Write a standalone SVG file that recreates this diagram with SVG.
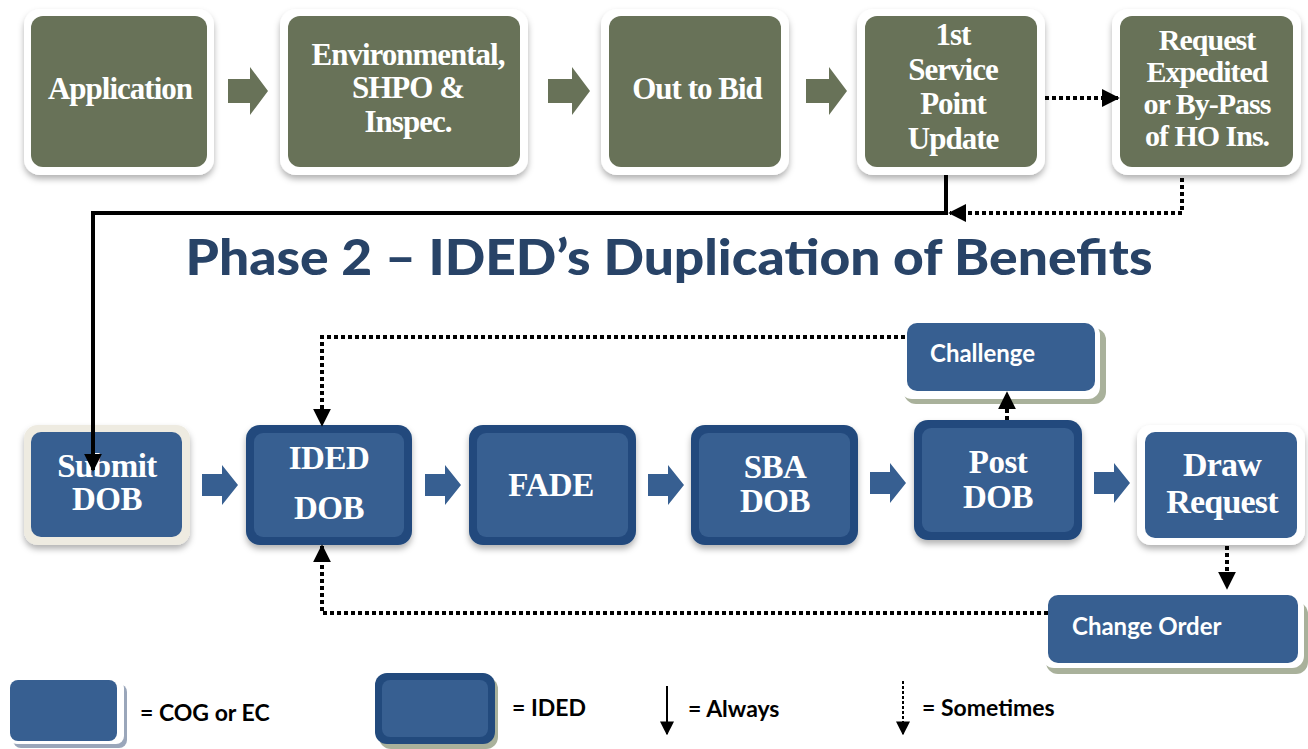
<svg xmlns="http://www.w3.org/2000/svg" width="1308" height="749" viewBox="0 0 1308 749">
<defs>
<filter id="sh" x="-10%" y="-10%" width="125%" height="135%">
<feDropShadow dx="0" dy="4" stdDeviation="3" flood-color="#000" flood-opacity="0.3"/>
</filter>
<marker id="ah" viewBox="0 0 10 10" refX="9" refY="5" markerWidth="4.5" markerHeight="4.5" orient="auto" markerUnits="strokeWidth">
<path d="M0,0 L10,5 L0,10 z" fill="#000"/>
</marker>
<marker id="ahL" viewBox="0 0 10 10" refX="9" refY="5" markerWidth="7" markerHeight="7" orient="auto" markerUnits="strokeWidth">
<path d="M0,0 L10,5 L0,10 z" fill="#000"/>
</marker>
<style>
.wht{fill:#ffffff;filter:url(#sh);}
.olv{fill:#687258;}
.blu{fill:#375f91;}
.ided{fill:#224a7d;filter:url(#sh);}
.cream{fill:#eeebe1;filter:url(#sh);}
.sgr{fill:#a9b19b;}
.t1{font-family:"Liberation Serif",serif;font-weight:bold;font-size:31px;fill:#fff;text-anchor:middle;letter-spacing:-1px;}
.t2{font-family:"Liberation Serif",serif;font-weight:bold;font-size:33px;fill:#fff;text-anchor:middle;letter-spacing:-0.5px;}
.t3{font-family:"Lato","Open Sans",sans-serif;font-weight:bold;font-size:24px;fill:#fff;}
.lg{font-family:"Lato","Open Sans",sans-serif;font-weight:bold;font-size:23px;fill:#000;}
.solid{fill:none;stroke:#000;stroke-width:4;}
.dot{fill:none;stroke:#000;stroke-width:4;stroke-dasharray:4 3;}
.barO{fill:#687258;}
.barB{fill:#375f91;}
</style>
</defs>
<rect width="1308" height="749" fill="#fff"/>

<g id="n-application">
<rect class="wht" x="24" y="9" width="190" height="166" rx="16"/>
<rect class="olv" x="31" y="16" width="176" height="151" rx="12"/>
<text class="t1" x="120" y="99">Application</text>
</g>
<g id="n-environmental">
<rect class="wht" x="280" y="9" width="248" height="166" rx="16"/>
<rect class="olv" x="288" y="16" width="232" height="151" rx="12"/>
<text class="t1" x="408" y="65">Environmental,</text>
<text class="t1" x="408" y="98">SHPO &amp;</text>
<text class="t1" x="408" y="132">Inspec.</text>
</g>
<g id="n-outtobid">
<rect class="wht" x="601" y="9" width="188" height="166" rx="16"/>
<rect class="olv" x="609" y="16" width="172" height="151" rx="12"/>
<text class="t1" x="697" y="99">Out to Bid</text>
</g>
<g id="n-service">
<rect class="wht" x="857" y="9" width="188" height="166" rx="16"/>
<rect class="olv" x="865" y="16" width="172" height="151" rx="12"/>
<text class="t1" x="953" y="45">1st</text>
<text class="t1" x="953" y="80">Service</text>
<text class="t1" x="953" y="114">Point</text>
<text class="t1" x="953" y="149">Update</text>
</g>
<g id="n-request">
<rect class="wht" x="1112" y="9" width="189" height="166" rx="16"/>
<rect class="olv" x="1120" y="16" width="173" height="151" rx="12"/>
<text class="t1" x="1207" y="50" style="font-size:30px">Request</text>
<text class="t1" x="1207" y="82" style="font-size:30px">Expedited</text>
<text class="t1" x="1207" y="114" style="font-size:30px">or By-Pass</text>
<text class="t1" x="1207" y="146" style="font-size:30px">of HO Ins.</text>
</g>

<text id="title" x="669" y="275" text-anchor="middle" textLength="967" lengthAdjust="spacingAndGlyphs" style="font-family:'Lato','Open Sans',sans-serif;font-weight:900;font-size:49px;fill:#284367">Phase 2 – IDED’s Duplication of Benefits</text>

<g id="n-submit">
<rect class="cream" x="24" y="425" width="166" height="120" rx="14"/>
<rect class="blu" x="31" y="432" width="151" height="105" rx="10"/>
<text class="t2" x="107" y="477">Submit</text>
<text class="t2" x="107" y="510">DOB</text>
</g>
<g id="n-ideddob">
<rect class="ided" x="246" y="425" width="166" height="120" rx="14"/>
<rect class="blu" x="254" y="433" width="150" height="104" rx="9"/>
<text class="t2" x="329" y="469">IDED</text>
<text class="t2" x="329" y="519">DOB</text>
</g>
<g id="n-fade">
<rect class="ided" x="469" y="425" width="167" height="120" rx="14"/>
<rect class="blu" x="477" y="433" width="151" height="104" rx="9"/>
<text class="t2" x="551" y="496">FADE</text>
</g>
<g id="n-sba">
<rect class="ided" x="691" y="425" width="167" height="120" rx="14"/>
<rect class="blu" x="699" y="433" width="151" height="104" rx="9"/>
<text class="t2" x="775" y="478">SBA</text>
<text class="t2" x="775" y="512">DOB</text>
</g>
<g id="n-post">
<rect class="ided" x="914" y="420" width="168" height="120" rx="14"/>
<rect class="blu" x="922" y="428" width="152" height="104" rx="9"/>
<text class="t2" x="998" y="473">Post</text>
<text class="t2" x="998" y="508">DOB</text>
</g>
<g id="n-draw">
<rect class="wht" x="1137" y="425" width="168" height="120" rx="14"/>
<rect class="blu" x="1145" y="432" width="152" height="106" rx="10"/>
<text class="t2" x="1222" y="476" style="font-size:34px;letter-spacing:-0.8px">Draw</text>
<text class="t2" x="1222" y="513" style="font-size:34px;letter-spacing:-0.8px">Request</text>
</g>
<g id="n-challenge">
<rect class="sgr" x="904" y="328" width="202" height="76" rx="12"/>
<rect fill="#fff" x="900" y="323" width="200" height="76" rx="12"/>
<rect class="blu" x="907" y="323" width="188" height="68" rx="10"/>
<text class="t3" x="930" y="362">Challenge</text>
</g>
<g id="n-change">
<rect class="sgr" x="1046" y="602" width="262" height="72" rx="12"/>
<rect fill="#fff" x="1042" y="596" width="262" height="72" rx="12"/>
<rect class="blu" x="1048" y="595" width="250" height="68" rx="10"/>
<text class="t3" x="1072" y="635">Change Order</text>
</g>

<g id="connectors">
<path class="barO" d="M228,79 h22 v-12 l18,24 l-18,24 v-12 h-22 z"/>
<path class="barO" d="M548,79 h24 v-12 l18,24 l-18,24 v-12 h-24 z"/>
<path class="barO" d="M806,79 h23 v-12 l18,24 l-18,24 v-12 h-23 z"/>
<path class="barB" d="M202,474 h20 v-9 l16,20 l-16,20 v-9 h-20 z"/>
<path class="barB" d="M425,474 h20 v-9 l16,20 l-16,20 v-9 h-20 z"/>
<path class="barB" d="M648,474 h20 v-9 l16,20 l-16,20 v-9 h-20 z"/>
<path class="barB" d="M870,472 h20 v-9 l16,20 l-16,20 v-9 h-20 z"/>
<path class="barB" d="M1094,472 h20 v-9 l16,20 l-16,20 v-9 h-20 z"/>

<path class="dot" d="M1045,98 H1118" marker-end="url(#ah)"/>
<path class="solid" d="M946,175 V213 H93 V470" marker-end="url(#ah)"/>
<path class="dot" d="M1182,178 V213 H950" marker-end="url(#ah)"/>
<path class="dot" d="M905,337 H322 V425" marker-end="url(#ah)"/>
<path class="dot" d="M1007,420 V393" marker-end="url(#ah)"/>
<path class="dot" d="M1227,546 V588" marker-end="url(#ah)"/>
<path class="dot" d="M1048,613 H322 V546" marker-end="url(#ah)"/>
</g>

<g id="legend">
<rect fill="#9aa6ba" x="13" y="684" width="114" height="64" rx="8"/>
<rect fill="#fff" x="9" y="680" width="115" height="64" rx="8"/>
<rect class="blu" x="10" y="680" width="107" height="61" rx="8"/>
<text class="lg" x="140" y="721">= COG or EC</text>
<rect class="sgr" x="379" y="677" width="119" height="72" rx="12"/>
<rect fill="#224a7d" x="375" y="673" width="120" height="71" rx="12"/>
<rect class="blu" x="382" y="680" width="106" height="57" rx="8"/>
<text class="lg" x="512" y="716">= IDED</text>
<path class="solid" d="M667,686 V734" style="stroke-width:2" marker-end="url(#ahL)"/>
<text class="lg" x="688" y="717">= Always</text>
<path class="dot" d="M903,681 V734" style="stroke-width:2;stroke-dasharray:3 2" marker-end="url(#ahL)"/>
<text class="lg" x="922" y="716">= Sometimes</text>
</g>
</svg>
